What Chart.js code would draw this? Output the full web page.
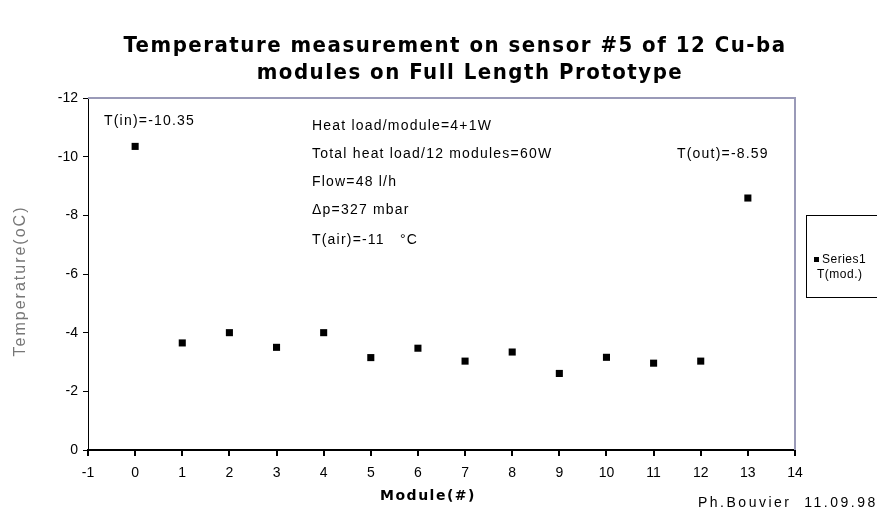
<!DOCTYPE html>
<html>
<head>
<meta charset="utf-8">
<title>Temperature measurement on sensor #5</title>
<script src="https://cdn.jsdelivr.net/npm/chart.js@4.4.0/dist/chart.umd.min.js"></script>
<style>
    html, body { margin: 0; padding: 0; background: #fff; }
    #wrap { width: 877px; height: 513px; position: relative; overflow: hidden; }
</style>
</head>
<body>
<div id="wrap"><canvas id="tempChart" width="877" height="513"></canvas></div>
<script>
// ===========================
// Donnees
// ===========================
const modules = [0, 1, 2, 3, 4, 5, 6, 7, 8, 9, 10, 11, 12, 13];
const temperatures = [-10.35, -3.65, -4.0, -3.5, -4.0, -3.15, -3.47, -3.03, -3.34, -2.61, -3.16, -2.96, -3.03, -8.59];
const xTicks = [-1, 0, 1, 2, 3, 4, 5, 6, 7, 8, 9, 10, 11, 12, 13, 14];
const yTicks = [-12, -10, -8, -6, -4, -2, 0];

const titleLines = ["Temperature measurement on sensor #5 of 12 Cu-ba", "modules on Full Length Prototype"];
const xTitle = "Module(#)";
const yTitle = "Temperature(oC)";
const notes = ["T(in)=-10.35", "Heat load/module=4+1W", "Total heat load/12 modules=60W", "Flow=48 l/h", "\u0394p=327 mbar", "T(air)=-11   \u00B0C", "T(out)=-8.59"];
const legendLines = ["Series1", "T(mod.)"];
const signature = "Ph.Bouvier  11.09.98";

// ===========================
// Decor : titre, textes, legende
// ===========================
const decorPlugin = {
    id: "decor",
    beforeDatasetsDraw(chart) {
        const ctx = chart.ctx;
        const a = chart.chartArea;
        ctx.save();
        ctx.strokeStyle = "#9a9ab8";
        ctx.lineWidth = 2;
        ctx.beginPath();
        ctx.moveTo(a.left, a.top);
        ctx.lineTo(a.right, a.top);
        ctx.lineTo(a.right, a.bottom);
        ctx.stroke();
        ctx.restore();
    },
    afterDraw(chart) {
        const ctx = chart.ctx;
        ctx.save();

        // titre
        ctx.fillStyle = "#000";
        ctx.textAlign = "center";
        ctx.textBaseline = "middle";
        ctx.font = "bold 22px 'DejaVu Sans Condensed', 'DejaVu Sans'";
        ctx.letterSpacing = "1.5px";
        ctx.fillText(titleLines[0], 455, 46);
        ctx.fillText(titleLines[1], 470, 73);

        // textes dans le graphique
        ctx.font = "14px 'Liberation Sans', Arial";
        ctx.letterSpacing = "1.2px";
        ctx.textAlign = "left";
        const pos = [[104, 121], [312, 126], [312, 154], [312, 182], [312, 210], [312, 240], [677, 154]];
        notes.forEach((t, i) => ctx.fillText(t, pos[i][0], pos[i][1]));

        // titre des axes
        ctx.font = "bold 14px 'DejaVu Sans', Arial";
        ctx.letterSpacing = "1.5px";
        ctx.textAlign = "center";
        ctx.fillText(xTitle, 428, 496);

        ctx.save();
        ctx.translate(21, 281);
        ctx.rotate(-Math.PI / 2);
        ctx.fillStyle = "#777";
        ctx.font = "16px 'Liberation Sans', Arial";
        ctx.letterSpacing = "2px";
        ctx.fillText(yTitle, 0, 0);
        ctx.restore();

        // signature
        ctx.font = "14px 'Liberation Sans', Arial";
        ctx.letterSpacing = "2.5px";
        ctx.textAlign = "left";
        ctx.fillText(signature, 698, 503);

        // legende
        ctx.fillStyle = "#fff";
        ctx.fillRect(806, 215, 80, 83);
        ctx.strokeStyle = "#000";
        ctx.lineWidth = 1;
        ctx.strokeRect(806.5, 215.5, 80, 82);
        ctx.fillStyle = "#000";
        ctx.fillRect(814, 257, 5, 5);
        ctx.font = "12px 'Liberation Sans', Arial";
        ctx.letterSpacing = "0.5px";
        ctx.fillText(legendLines[0], 822, 260);
        ctx.fillText(legendLines[1], 817, 275);

        ctx.restore();
    }
};

// ===========================
// Graphique Chart.js
// ===========================
document.addEventListener("DOMContentLoaded", function () {
    const ctx = document.getElementById("tempChart").getContext("2d");

    new Chart(ctx, {
        type: "scatter",
        data: {
            datasets: [{
                label: legendLines[0],
                data: modules.map((m, i) => ({ x: m, y: temperatures[i] })),
                backgroundColor: "#000",
                borderWidth: 0,
                pointStyle: "rect",
                pointRadius: 5,
                pointHoverRadius: 5
            }]
        },
        options: {
            responsive: false,
            animation: false,
            devicePixelRatio: 1,
            layout: { padding: { left: 0, top: 98, right: 82, bottom: 0 } },
            plugins: {
                legend: { display: false },
                title: { display: false },
                tooltip: { enabled: false }
            },
            scales: {
                x: {
                    type: "linear",
                    min: -1,
                    max: 14,
                    afterBuildTicks: axis => { axis.ticks = xTicks.map(v => ({ value: v })); },
                    afterFit: axis => { axis.height = 63; },
                    grid: { drawOnChartArea: false, tickLength: 6, color: "#000", tickColor: "#000", lineWidth: 2 },
                    border: { color: "#000", width: 2 },
                    ticks: { color: "#000", font: { size: 14, family: "'Liberation Sans', Arial" }, padding: 9, maxRotation: 0 }
                },
                y: {
                    type: "linear",
                    min: -12,
                    max: 0,
                    reverse: true,
                    afterBuildTicks: axis => { axis.ticks = yTicks.map(v => ({ value: v })); },
                    afterFit: axis => { axis.width = 88; },
                    grid: { drawOnChartArea: false, tickLength: 5, color: "#000", tickColor: "#000" },
                    border: { color: "#000", width: 1 },
                    ticks: { color: "#000", font: { size: 14, family: "'Liberation Sans', Arial" }, padding: 5 }
                }
            }
        },
        plugins: [decorPlugin]
    });
});
</script>
</body>
</html>
